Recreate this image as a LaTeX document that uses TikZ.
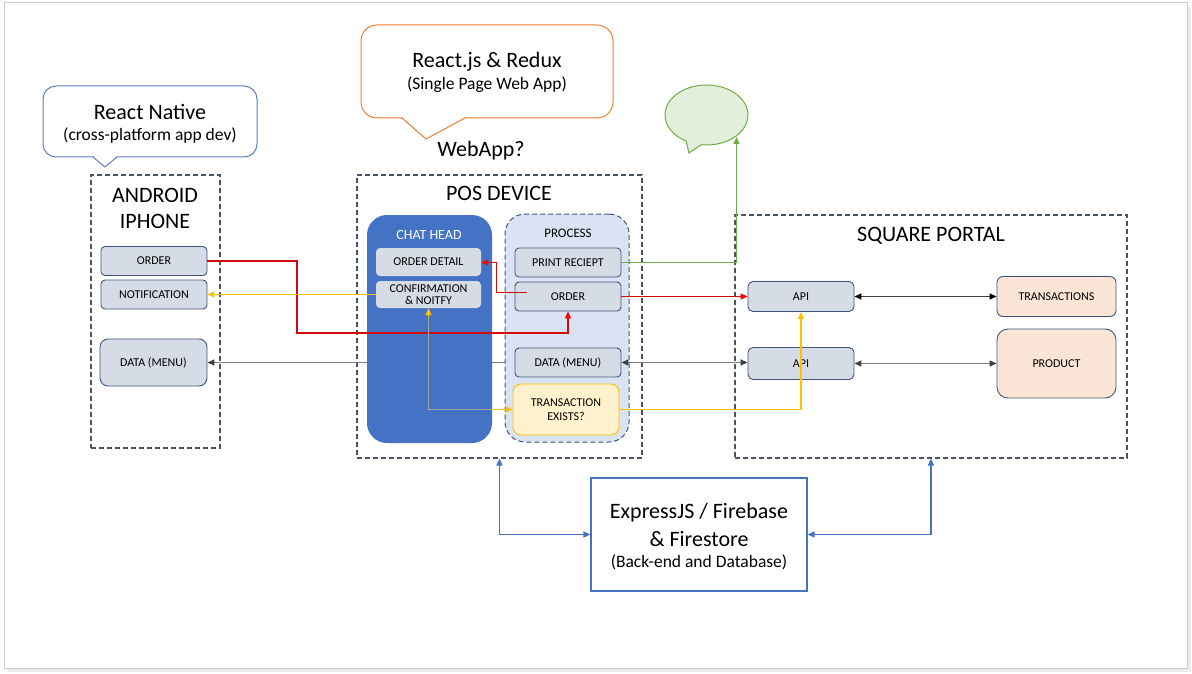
\documentclass[tikz,border=0pt]{standalone}
\usepackage{fontspec}
\setmainfont{Carlito}
\usetikzlibrary{arrows.meta,shapes.callouts,shapes.geometric}
\definecolor{frameedge}{HTML}{44546A}
\definecolor{boxfill}{HTML}{D6DCE5}
\definecolor{boxedge}{HTML}{41557A}
\definecolor{chatblue}{HTML}{4472C4}
\definecolor{procfill}{HTML}{DAE3F3}
\definecolor{txfill}{HTML}{FFF2CC}
\definecolor{txedge}{HTML}{FFC000}
\definecolor{peach}{HTML}{FBE5D6}
\definecolor{orangeedge}{HTML}{ED7D31}
\definecolor{greenfill}{HTML}{E2EFDA}
\definecolor{greenedge}{HTML}{70AD47}
\definecolor{redline}{HTML}{D20A0A}
\definecolor{redtip}{HTML}{FF0000}
\definecolor{yel}{HTML}{FFC000}
\definecolor{grayline}{HTML}{808080}
\definecolor{graytip}{HTML}{404040}
\definecolor{darkline}{HTML}{404040}
\definecolor{calloutblue}{HTML}{5B7FC4}
\definecolor{inchat}{HTML}{A5A5A5}
\newcommand\fsz[2]{\fontsize{#1}{#2}\selectfont}
\tikzset{
  tip/.style={-{Triangle[length=7pt,width=6pt,color=#1]}},
  tiptwo/.style={{Triangle[length=7pt,width=6pt,color=#1]}-{Triangle[length=7pt,width=6pt,color=#1]}},
  smallbox/.style={draw=boxedge, fill=boxfill, rounded corners=4pt, line width=0.9pt,
     font=\fsz{12}{14}, inner sep=0pt, align=center},
  chatbox/.style={draw=none, fill=boxfill, rounded corners=4pt,
     font=\fsz{12}{14}, inner sep=0pt, align=center},
  peachbox/.style={draw=boxedge, fill=peach, rounded corners=6pt, line width=0.9pt,
     font=\fsz{12}{14}, inner sep=0pt, align=center},
  dashframe/.style={draw=frameedge, line width=1.1pt, dash pattern=on 5pt off 3pt, inner sep=0pt},
  conn/.style={line width=1.4pt},
  title/.style={anchor=base, font=\fsz{22}{26}, inner sep=0pt},
  subtitle/.style={anchor=base, font=\fsz{17.5}{21}, inner sep=0pt},
}
\begin{document}
\begin{tikzpicture}[x=1pt,y=-1pt]
\useasboundingbox (0,0) rectangle (1192,674);
% outer frame
\draw[black!8, line width=2.5pt] (1189.5,7) -- (1189.5,670.5) -- (8,670.5);
\draw[black!20, line width=1pt] (4,3) rectangle (1187,668);

% callouts
\node[draw=calloutblue, fill=white, rounded corners=13pt, line width=1pt,
      minimum width=214pt, minimum height=71pt, inner sep=0pt] (rnbubble) at (150,121.5) {};
\fill[white] (94,155) -- (116,155) -- (116,158.2) -- (105,166) -- (94,158.2) -- cycle;
\draw[calloutblue, line width=1pt] (93,157) -- (105,167) -- (117,157);
\node[title] (rntitle) at (150,120) {React Native};
\node[subtitle] (rnsub) at (150,141) {(cross-platform app dev)};

\node[draw=orangeedge, fill=white, rounded corners=16pt, line width=1pt,
      minimum width=252pt, minimum height=93pt, inner sep=0pt] (rjbubble) at (487,71.5) {};
\fill[white] (403,116) -- (464,116) -- (464,119) -- (426,138) -- (403,119) -- cycle;
\draw[orangeedge, line width=1pt] (402,118) -- (426,139) -- (465,118);
\node[title] (rjtitle) at (487,68) {React.js \& Redux};
\node[subtitle] (rjsub) at (487,90) {(Single Page Web App)};

\node[title] (webapp) at (481,157) {WebApp?};

\node[ellipse callout, draw=greenedge, fill=greenfill, line width=1pt,
      callout absolute pointer={(689,153)}, callout pointer arc=22,
      minimum width=83pt, minimum height=60pt, inner sep=0pt] (greenbubble) at (706.5,115) {};

% frames
\node[dashframe, minimum width=129pt, minimum height=273pt] (andframe) at (155.5,311.5) {};
\node[dashframe, minimum width=285pt, minimum height=283pt] (posframe) at (499.5,316.5) {};
\node[dashframe, minimum width=392pt, minimum height=243pt] (sqframe) at (931,336.5) {};

\node[title] (andtitle1) at (155,202) {ANDROID};
\node[title] (andtitle2) at (155,228) {IPHONE};
\node[title] (postitle) at (499,200.5) {POS DEVICE};
\node[title] (sqtitle) at (931,241) {SQUARE PORTAL};

% android boxes
\node[smallbox, minimum width=106pt, minimum height=29pt] (aorder) at (154,261) {ORDER};
\node[smallbox, minimum width=106pt, minimum height=29pt] (anotif) at (154,294.5) {NOTIFICATION};
\node[smallbox, rounded corners=8pt, minimum width=107pt, minimum height=47pt] (adata) at (153.5,362.5) {DATA (MENU)};

% gray line runs behind chat head and process
\coordinate (pdataw) at (515,362.5);
\draw[conn, grayline, tip=graytip] (pdataw) -- (adata.east);

% chat head
\node[fill=chatblue, rounded corners=20pt, minimum width=125pt, minimum height=228pt, inner sep=0pt] (chathead) at (429.5,329) {};
\node[anchor=base, font=\fsz{14}{16}, text=white, inner sep=0pt] (chattitle) at (429,239) {CHAT HEAD};
\node[chatbox, minimum width=105pt, minimum height=28pt] (odetail) at (428.5,262) {ORDER DETAIL};
\node[chatbox, minimum width=105pt, minimum height=27pt] (confirm) at (428.5,294.5) {CONFIRMATION\\[-1.5pt]\& NOITFY};

% process
\node[draw=boxedge, fill=procfill, dash pattern=on 5pt off 3pt, line width=1pt, rounded corners=20pt,
      minimum width=124pt, minimum height=228pt, inner sep=0pt] (process) at (567,328) {};
\node[anchor=base, font=\fsz{13}{15}, inner sep=0pt] (proctitle) at (568,237) {PROCESS};
\node[smallbox, minimum width=106pt, minimum height=29pt] (preceipt) at (568,262.5) {PRINT RECIEPT};
\node[smallbox, minimum width=106pt, minimum height=29pt] (porder) at (568,296.5) {ORDER};
\node[smallbox, minimum width=106pt, minimum height=29pt] (pdata) at (568,362.5) {DATA (MENU)};
\node[smallbox, draw=txedge, fill=txfill, rounded corners=8pt, minimum width=106pt, minimum height=51pt] (trans) at (566,409.5) {TRANSACTION\\[0.5pt]EXISTS?};

% square portal boxes
\node[smallbox, rounded corners=5pt, minimum width=106pt, minimum height=30pt] (api1) at (801,296.5) {API};
\node[smallbox, rounded corners=5pt, minimum width=106pt, minimum height=32pt] (api2) at (801,363.5) {API};
\node[peachbox, minimum width=119pt, minimum height=40pt] (transactions) at (1056.5,296.5) {TRANSACTIONS};
\node[peachbox, rounded corners=11pt, minimum width=119pt, minimum height=69pt] (product) at (1056.5,363.5) {PRODUCT};

% express box
\node[draw=chatblue, fill=white, line width=1.2pt, minimum width=216pt, minimum height=113pt, inner sep=0pt] (express) at (699,534.5) {};
\node[title] (exp1) at (699,518) {ExpressJS / Firebase};
\node[title] (exp2) at (699,546) {\& Firestore};
\node[subtitle] (exp3) at (699,567) {(Back-end and Database)};

% connectors
\coordinate (r1) at (297,333);
\draw[conn, redline, tip=redtip] (aorder.east) -| (r1) -| (porder.south);
\coordinate (r2) at (527,292.5);
\coordinate (r3) at (496.5,262.5);
\draw[conn, redline, tip=redtip] (r2) -| (r3) -- (odetail.east |- r3);
\draw[conn, redline, tip=redtip] (porder.east) -- (api1.west |- porder.east);

\draw[conn, yel, tip=yel] (confirm.west) -- (anotif.east);
\draw[conn, yel, tiptwo=yel] (confirm.south) |- (trans.west);
\begin{scope}
  \clip (367,318) rectangle (492,443);
  \draw[conn, inchat] (confirm.south) |- (trans.west);
\end{scope}
\draw[conn, yel, tip=yel] (trans.east) -| (api1.south);

\draw[conn, grayline, tiptwo=graytip] (pdata.east) -- (api2.west |- pdata.east);
\draw[conn, darkline, tiptwo=black] (api1.east) -- (transactions.west);
\draw[conn, grayline, tiptwo=graytip] (api2.east) -- (product.west |- api2.east);

\coordinate (gtip) at (736.5,137);
\draw[conn, greenedge, tip=greenedge] (preceipt.east) -| (gtip);

\draw[conn, chatblue, tiptwo=chatblue] (express.west) -| (posframe.south);
\draw[conn, chatblue, tiptwo=chatblue] (express.east) -| (sqframe.south);
\end{tikzpicture}
\end{document}
